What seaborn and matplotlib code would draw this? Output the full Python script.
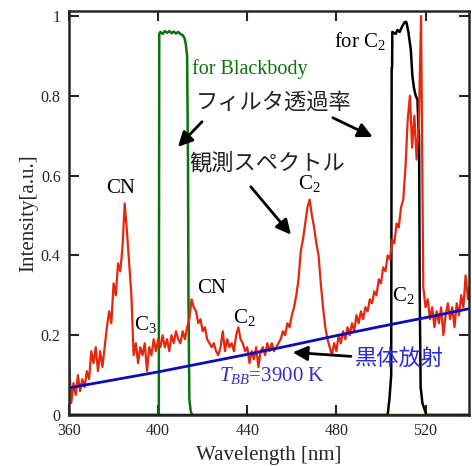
import numpy as np
import pandas as pd
import matplotlib
matplotlib.use("Agg")
import matplotlib.pyplot as plt
import seaborn as sns

# measured emission spectrum (1 nm steps, 360-540 nm)
wl = np.arange(360, 541, 1)
spectrum = [
    0.14, 0.03, 0.08, 0.05, 0.10, 0.06, 0.09, 0.07, 0.11, 0.09,   # 360-369
    0.16, 0.13, 0.17, 0.11, 0.16, 0.12, 0.17, 0.22, 0.26, 0.23,   # 370-379
    0.33, 0.30, 0.38, 0.36, 0.42, 0.53, 0.46, 0.38, 0.30, 0.15,   # 380-389
    0.18, 0.13, 0.17, 0.15, 0.18, 0.11, 0.17, 0.15, 0.19, 0.16,   # 390-399
    0.19, 0.17, 0.20, 0.17, 0.19, 0.16, 0.20, 0.18, 0.21, 0.19,   # 400-409
    0.18, 0.21, 0.19, 0.22, 0.24, 0.29, 0.27, 0.26, 0.23, 0.24,   # 410-419
    0.21, 0.22, 0.19, 0.18, 0.17, 0.18, 0.16, 0.15, 0.17, 0.21,   # 420-429
    0.16, 0.19, 0.17, 0.18, 0.16, 0.20, 0.22, 0.19, 0.18, 0.16,   # 430-439
    0.17, 0.13, 0.16, 0.14, 0.17, 0.12, 0.16, 0.17, 0.15, 0.18,   # 440-449
    0.16, 0.18, 0.16, 0.17, 0.18, 0.19, 0.21, 0.20, 0.23, 0.22,   # 450-459
    0.25, 0.27, 0.30, 0.34, 0.41, 0.44, 0.48, 0.52, 0.54, 0.50,   # 460-469
    0.47, 0.43, 0.40, 0.33, 0.27, 0.22, 0.19, 0.17, 0.15, 0.18,   # 470-479
    0.16, 0.20, 0.18, 0.21, 0.19, 0.22, 0.20, 0.23, 0.21, 0.25,   # 480-489
    0.23, 0.26, 0.24, 0.27, 0.26, 0.29, 0.28, 0.31, 0.30, 0.34,   # 490-499
    0.33, 0.37, 0.36, 0.40, 0.39, 0.44, 0.43, 0.48, 0.47, 0.52,   # 500-509
    0.54, 0.62, 0.74, 0.80, 0.67, 0.75, 0.64, 0.73, 1.00, 0.32,   # 510-519
    0.27, 0.29, 0.24, 0.27, 0.22, 0.26, 0.23, 0.27, 0.20, 0.25,   # 520-529
    0.28, 0.24, 0.27, 0.22, 0.28, 0.25, 0.30, 0.27, 0.35, 0.29,   # 530-539
    0.33,                                                         # 540
]

# filter transmission for the blackbody channel
bb_filter_wl = [360, 400.3, 400.5, 401, 402, 403, 404, 405, 406, 407, 408, 409,
                410, 411, 411.8, 412.4, 413.0, 413.4, 413.6, 414.0, 414.6, 415.2, 540]
bb_filter_t = [0, 0, 0.955, 0.96, 0.955, 0.962, 0.958, 0.962, 0.957, 0.961, 0.956, 0.96,
               0.955, 0.952, 0.945, 0.93, 0.90, 0.63, 0.30, 0.04, 0.01, 0, 0]

# filter transmission for the C2 channel
c2_filter_wl = [360, 503.0, 503.8, 504.6, 504.8, 505.0, 505.1, 506.6, 507.4, 508.4, 509.6,
                510.7, 511.4, 512.3, 513.4, 514.1, 514.8, 515.6, 516.4, 516.8, 517.1,
                517.4, 517.8, 518.6, 520.4, 540]
c2_filter_t = [0, 0, 0.04, 0.10, 0.87, 0.87, 0.96, 0.955, 0.965, 0.96, 0.975,
               0.985, 0.985, 0.96, 0.915, 0.85, 0.82, 0.80, 0.79, 0.72, 0.70,
               0.30, 0.07, 0.03, 0, 0]

# blackbody curve, T = 3900 K
bb_wl = [360, 380, 400, 420, 440, 460, 480, 500, 520, 540]
bb_int = [0.068, 0.088, 0.108, 0.130, 0.152, 0.175, 0.199, 0.222, 0.244, 0.267]

sns.set_style("ticks")
plt.rcParams['font.family'] = ['Liberation Serif', 'Noto Sans CJK JP']
plt.rcParams['mathtext.fontset'] = 'custom'
plt.rcParams['mathtext.rm'] = 'Liberation Serif'
plt.rcParams['mathtext.it'] = 'Liberation Serif:italic'

fig = plt.figure(figsize=(4.72, 4.66), dpi=100)
ax = fig.add_axes([0.1462, 0.1094, 0.8474, 0.867])

spec = pd.DataFrame({'wl': wl, 'I': spectrum})
f_bb = pd.DataFrame({'wl': bb_filter_wl, 'T': bb_filter_t})
f_c2 = pd.DataFrame({'wl': c2_filter_wl, 'T': c2_filter_t})
bb = pd.DataFrame({'wl': bb_wl, 'I': bb_int})

sns.lineplot(data=f_bb, x='wl', y='T', ax=ax, color='#0b730b', linewidth=1.8,
             estimator=None, sort=False)
sns.lineplot(data=f_c2, x='wl', y='T', ax=ax, color='black', linewidth=1.8,
             estimator=None, sort=False)
sns.lineplot(data=spec, x='wl', y='I', ax=ax, color='#e8260c', linewidth=1.6,
             estimator=None, sort=False)
sns.lineplot(data=bb, x='wl', y='I', ax=ax, color='#0c0cb8', linewidth=2.0,
             estimator=None, sort=False)

ax.set_xlim(360, 539.5)
ax.set_ylim(0, 1.0125)
ax.set_xticks([360, 400, 440, 480, 520])
ax.set_yticks([0, 0.2, 0.4, 0.6, 0.8, 1.0])
ax.set_yticklabels(['0', '0.2', '0.4', '0.6', '0.8', '1'])
ax.tick_params(direction='in', length=7, width=1.5, labelsize=11.5,
               top=True, right=True, pad=6)
for s in ax.spines.values():
    s.set_linewidth(1.8)
ax.set_xlabel('Wavelength [nm]', fontsize=15, labelpad=5)
ax.set_ylabel('Intensity[a.u.]', fontsize=15, labelpad=2)

# peak labels
lab = dict(fontsize=15, ha='center', va='center', color='black')
ax.text(383, 0.567, 'CN', **lab)
ax.text(394.5, 0.228, 'C$_3$', **lab)
ax.text(424.1, 0.318, 'CN', **lab)
ax.text(438.5, 0.245, 'C$_2$', **lab)
ax.text(467.8, 0.58, 'C$_2$', **lab)
ax.text(510.2, 0.30, 'C$_2$', **lab)

ax.text(415.0, 0.868, 'for Blackbody', fontsize=14.5, color='#0b730b',
        ha='left', va='center')
ax.text(502.5, 0.938, 'for C$_2$', fontsize=15, color='black',
        ha='right', va='center')

jp = ['Noto Sans CJK JP', 'DejaVu Sans']
ax.text(417.0, 0.783, 'フィルタ透過率', fontsize=16, family=jp, color='#222222',
        ha='left', va='center')
ax.text(414.0, 0.632, '観測スペクトル', fontsize=16, family=jp, color='#222222',
        ha='left', va='center')
ax.text(488.5, 0.142, '黒体放射', fontsize=16, family=jp, color='#2a2ae0',
        ha='left', va='center')
ax.text(427.5, 0.10, r'$T_{BB}$=3900 K', fontsize=15, color='#3a2ad0',
        ha='left', va='center')

arrow = dict(arrowstyle='-|>', color='black', lw=2, mutation_scale=22,
             shrinkA=0, shrinkB=0)
ax.annotate('', xy=(408.9, 0.672), xytext=(419.7, 0.735), arrowprops=arrow)
ax.annotate('', xy=(496.3, 0.697), xytext=(478.4, 0.745), arrowprops=arrow)
ax.annotate('', xy=(459.6, 0.452), xytext=(441.6, 0.572), arrowprops=arrow)
ax.annotate('', xy=(460.4, 0.157), xytext=(486.5, 0.147), arrowprops=arrow)

fig.savefig('out.png', dpi=100)
